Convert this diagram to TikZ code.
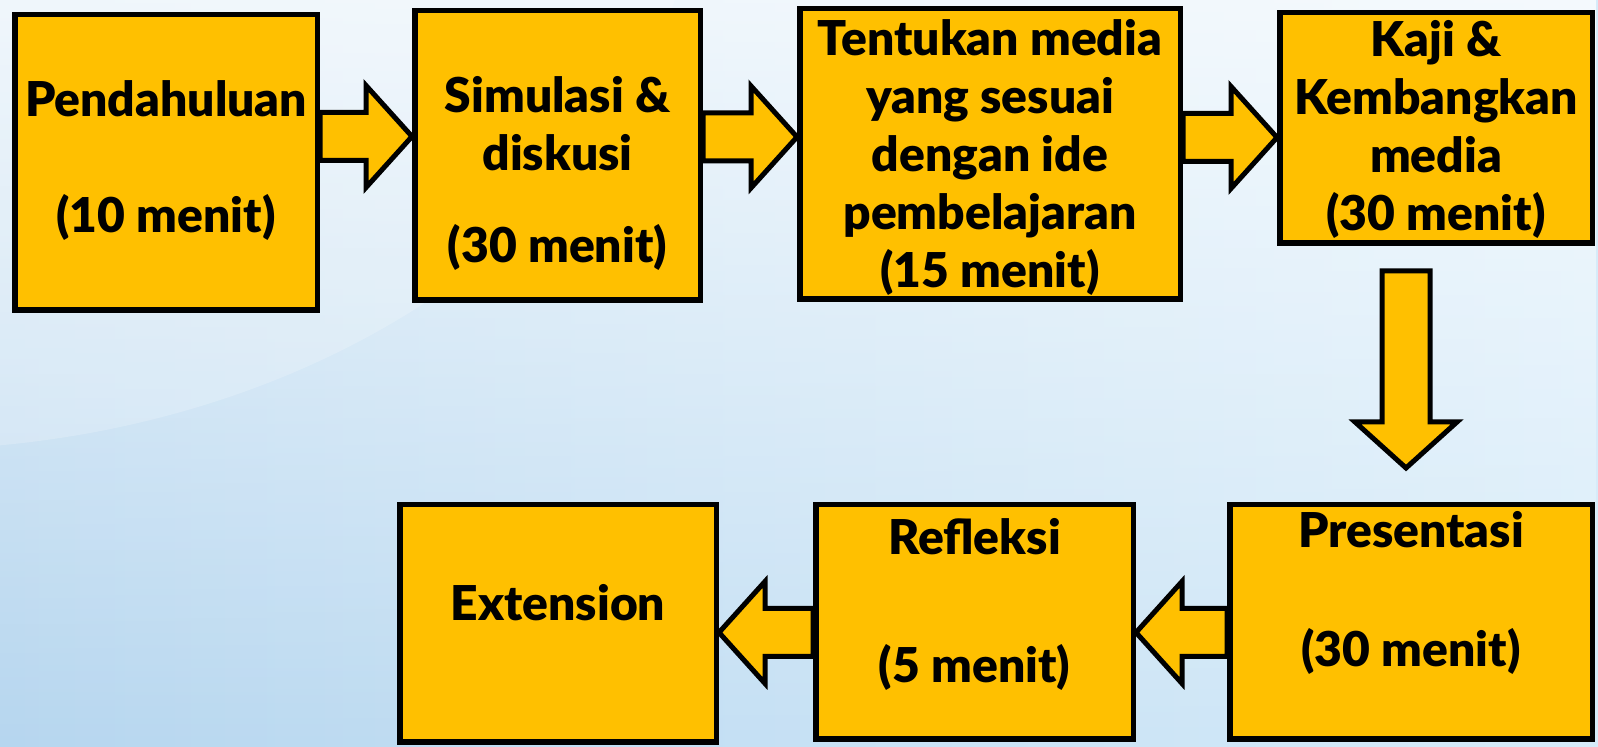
\documentclass[tikz,border=0pt]{standalone}
\usepackage{fontspec}
\setmainfont{Lato}[BoldFont={* Black}]
\usetikzlibrary{positioning, calc, fadings}

\definecolor{boxfill}{HTML}{FFC000}
\definecolor{bgleft}{HTML}{B6D6EF}
\definecolor{bgright}{HTML}{D6EBF9}

\begin{document}
\begin{tikzpicture}[x=0.5pt, y=0.5pt,
  stepbox/.style={draw=black, fill=boxfill, line width=2.75pt, anchor=north west, inner sep=0pt},
  every label/.style={align=center, font=\fontsize{24}{29}\selectfont\bfseries},
  flow/.style={draw=black, fill=boxfill, line width=2.5pt, line join=miter,
    to path={let \p1=(\tikztostart), \p2=(\tikztotarget), \n1={atan2(\y2-\y1,\x2-\x1)} in
      ($(\p1)+(\n1+90:12pt)$) -- ($(\p2)+(\n1+180:23pt)+(\n1+90:12pt)$)
      -- ($(\p2)+(\n1+180:23pt)+(\n1+90:25.5pt)$) -- (\p2)
      -- ($(\p2)+(\n1+180:23pt)+(\n1-90:25.5pt)$) -- ($(\p2)+(\n1+180:23pt)+(\n1-90:12pt)$)
      -- ($(\p1)+(\n1-90:12pt)$) -- cycle}}]

  % Latar belakang
  \useasboundingbox (0,0) rectangle (1598,747);
  \shade[left color=bgleft, right color=bgright] (0,0) rectangle (1598,747);
  \fill[white, path fading=south, opacity=0.75] (0,0) rectangle (1598,747);
  \fill[white, opacity=0.2] (-100,897) ellipse [x radius=800, y radius=600];

  % Kotak langkah
  \node[stepbox, minimum width=151.25pt, minimum height=147.75pt,
    label={[yshift=1pt]center:{Pendahuluan\\[29pt](10 menit)}}] (b1) at (12,735) {};
  \node[stepbox, minimum width=142.75pt, minimum height=144.75pt,
    label={[yshift=-9pt]center:{Simulasi \&\\diskusi\\[17pt](30 menit)}}] (b2) at (412,739) {};
  \node[stepbox, minimum width=190.25pt, minimum height=145.25pt,
    label={[yshift=-1.75pt]center:{Tentukan media\\yang sesuai\\dengan ide\\pembelajaran\\(15 menit)}}] (b3) at (797,741) {};
  \node[stepbox, minimum width=156.25pt, minimum height=115.25pt,
    label={[yshift=-0.5pt]center:{Kaji \&\\Kembangkan\\media\\(30 menit)}}] (b4) at (1277,737) {};
  \node[stepbox, minimum width=181.25pt, minimum height=117.25pt,
    label={[yshift=14.5pt]center:{Presentasi\\[30.5pt](30 menit)}}] (b5) at (1227,245) {};
  \node[stepbox, minimum width=158.75pt, minimum height=117.25pt,
    label={[yshift=8.75pt]center:{Refleksi\\[35pt](5 menit)}}] (b6) at (813,245) {};
  \node[stepbox, minimum width=158.25pt, minimum height=118.75pt,
    label={[yshift=10.5pt]center:{Extension}}] (b7) at (397,245) {};

  % Panah alur
  \path[flow] ([yshift=13pt]b1.east) to ([yshift=13pt]b1.east -| b2.west);
  \path[flow] ([yshift=9.25pt]b2.east) to ([yshift=9.25pt]b2.east -| b3.west);
  \path[flow] ([yshift=8.25pt]b3.east) to ([yshift=8.25pt]b3.east -| b4.west);
  \path[flow] ([xshift=-2.5pt,yshift=-12.5pt]b4.south -| b5.north) to ([xshift=-2.5pt,yshift=17pt]b5.north);
  \path[flow] ([yshift=-5.25pt]b5.west) to ([yshift=-5.25pt]b5.west -| b6.east);
  \path[flow] ([yshift=-5.25pt]b6.west) to ([yshift=-5.25pt]b6.west -| b7.east);
\end{tikzpicture}
\end{document}
